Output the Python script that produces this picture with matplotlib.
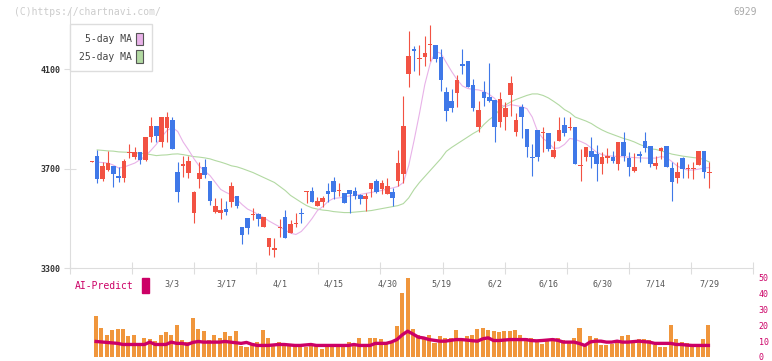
import numpy as np
import matplotlib
matplotlib.use("Agg")
import matplotlib.pyplot as plt
from matplotlib.patches import Patch, Rectangle

nan = np.nan

# daily candles (oldest first); labels every 10 trading days
opens = [3727, 3753, 3657, 3697, 3713, 3673, 3665, 3762, 3747, 3766,
         3737, 3827, 3874, 3807, 3863, 3898, 3689, 3710, 3685, 3522,
         3658, 3709, 3649, 3526, 3523, 3540, 3566, 3589, 3465, 3504,
         3516, 3520, 3465, 3385, 3373, 3461, 3508, 3441, 3477, 3524,
         3606, 3609, 3550, 3566, 3609, 3649, 3610, 3602, 3613, 3609,
         3593, 3578, 3618, 3652, 3620, 3598, 3605, 3650, 3680, 4080,
         4180, 4140, 4149, 4196, 4198, 4151, 4008, 3971, 4004, 4123,
         4135, 4035, 3870, 4007, 3987, 3975, 3887, 3907, 3995, 3847,
         3950, 3858, 3749, 3854, 3843, 3845, 3747, 3811, 3878, 3865,
         3870, 3710, 3747, 3770, 3760, 3718, 3743, 3749, 3718, 3806,
         3743, 3690, 3760, 3810, 3790, 3710, 3771, 3790, 3705, 3662,
         3743, 3700, 3698, 3717, 3770, 3684]
closes = [3730, 3657, 3710, 3725, 3678, 3665, 3733, 3765, 3766, 3737,
          3826, 3874, 3831, 3910, 3910, 3778, 3605, 3720, 3733, 3605,
          3685, 3677, 3570, 3552, 3536, 3526, 3629, 3550, 3432, 3461,
          3519, 3497, 3508, 3420, 3380, 3468, 3421, 3480, 3480, 3518,
          3609, 3566, 3569, 3581, 3597, 3606, 3614, 3562, 3600, 3590,
          3577, 3589, 3644, 3606, 3644, 3629, 3582, 3725, 3874, 4155,
          4172, 4144, 4165, 4199, 4142, 4055, 3932, 3946, 4055, 4112,
          4028, 3944, 3938, 3984, 3971, 3867, 3979, 3945, 4044, 3898,
          3907, 3787, 3744, 3747, 3846, 3780, 3774, 3854, 3843, 3868,
          3720, 3713, 3786, 3749, 3718, 3749, 3753, 3731, 3806, 3751,
          3706, 3708, 3751, 3783, 3718, 3724, 3783, 3709, 3646, 3689,
          3700, 3703, 3701, 3770, 3686, 3687]
highs = [3731, 3776, 3727, 3771, 3713, 3706, 3740, 3798, 3787, 3767,
         3826, 3907, 3874, 3910, 3928, 3907, 3727, 3753, 3753, 3610,
         3727, 3740, 3649, 3582, 3582, 3570, 3646, 3589, 3468, 3504,
         3544, 3524, 3508, 3420, 3420, 3499, 3536, 3496, 3522, 3544,
         3609, 3625, 3586, 3589, 3642, 3666, 3644, 3602, 3613, 3626,
         3600, 3602, 3644, 3660, 3656, 3665, 3622, 3774, 3991, 4252,
         4192, 4196, 4232, 4280, 4198, 4182, 4028, 4019, 4078, 4180,
         4135, 4062, 3971, 4051, 4125, 3975, 4008, 3968, 4075, 3925,
         3961, 3858, 3798, 3854, 3870, 3845, 3810, 3910, 3910, 3910,
         3870, 3780, 3786, 3826, 3794, 3767, 3783, 3770, 3806, 3846,
         3767, 3764, 3770, 3847, 3790, 3753, 3787, 3790, 3727, 3727,
         3747, 3720, 3727, 3770, 3770, 3727]
lows = [3727, 3642, 3650, 3690, 3626, 3646, 3646, 3744, 3740, 3720,
        3733, 3807, 3807, 3787, 3807, 3778, 3566, 3666, 3662, 3481,
        3622, 3662, 3556, 3523, 3499, 3513, 3548, 3542, 3396, 3437,
        3495, 3471, 3465, 3353, 3345, 3425, 3421, 3441, 3465, 3481,
        3562, 3566, 3550, 3546, 3566, 3579, 3589, 3562, 3523, 3579,
        3559, 3532, 3586, 3602, 3600, 3598, 3551, 3629, 3642, 4028,
        4095, 4078, 4115, 4135, 4131, 4012, 3891, 3928, 3948, 4082,
        4028, 3934, 3847, 3954, 3968, 3807, 3870, 3854, 3914, 3830,
        3823, 3747, 3670, 3731, 3767, 3770, 3743, 3811, 3830, 3854,
        3720, 3650, 3731, 3702, 3650, 3678, 3724, 3724, 3697, 3731,
        3670, 3686, 3727, 3767, 3706, 3700, 3740, 3706, 3570, 3642,
        3664, 3662, 3657, 3717, 3664, 3622]

ma5 = [nan, 3727, 3725, 3723, 3715, 3703, 3707, 3715, 3723, 3737,
       3751, 3774, 3798, 3828, 3854, 3866, 3850, 3808, 3776, 3741,
       3711, 3691, 3673, 3645, 3617, 3605, 3595, 3577, 3556, 3538,
       3528, 3516, 3504, 3490, 3478, 3466, 3454, 3441, 3436, 3448,
       3472, 3500, 3532, 3548, 3569, 3581, 3583, 3587, 3591, 3593,
       3597, 3601, 3605, 3609, 3613, 3619, 3623, 3629, 3645, 3713,
       3814, 3922, 4039, 4123, 4172, 4164, 4127, 4091, 4059, 4033,
       4023, 4019, 4017, 4011, 3999, 3983, 3958, 3950, 3958, 3954,
       3950, 3942, 3908, 3850, 3822, 3806, 3782, 3784, 3798, 3822,
       3818, 3810, 3800, 3784, 3766, 3757, 3752, 3751, 3749, 3748,
       3747, 3745, 3744, 3743, 3743, 3743, 3749, 3745, 3729, 3711,
       3701, 3695, 3695, 3699, 3703, 3705]
ma25 = [nan, 3776, 3774, 3772, 3771, 3768, 3767, 3766, 3764, 3763,
        3760, 3757, 3753, 3755, 3756, 3759, 3760, 3757, 3753, 3749,
        3747, 3744, 3740, 3733, 3727, 3720, 3712, 3708, 3701, 3693,
        3685, 3675, 3665, 3655, 3645, 3629, 3613, 3593, 3579, 3565,
        3552, 3543, 3538, 3534, 3532, 3528, 3526, 3524, 3524, 3526,
        3528, 3530, 3532, 3536, 3540, 3544, 3548, 3552, 3560, 3583,
        3617, 3645, 3669, 3693, 3717, 3741, 3770, 3786, 3800, 3814,
        3828, 3842, 3854, 3878, 3898, 3914, 3940, 3956, 3969, 3979,
        3987, 3995, 4001, 4001, 3995, 3985, 3971, 3956, 3938, 3926,
        3908, 3900, 3892, 3882, 3868, 3856, 3846, 3838, 3830, 3822,
        3816, 3808, 3798, 3790, 3780, 3778, 3772, 3766, 3759, 3755,
        3751, 3748, 3745, 3743, 3737, 3727]

volume = [nan, 25.6, 18, 14.2, 16.8, 17.4, 17.4, 13, 14.2, 7.3,
          11.7, 11.1, 9.8, 13.6, 15.5, 13.6, 19.9, 10.5, 9.2, 24.4,
          17.4, 16.1, 10.5, 13.6, 12.3, 15.5, 13, 16.1, 6.7, 6.1,
          7.3, 9.2, 16.8, 11.7, 7.3, 9.2, 7.3, 7.3, 7.3, 7.3,
          6.1, 7.3, 7.3, 4.8, 7.3, 7.3, 7.3, 7.3, 9.2, 8,
          11.7, 7.3, 11.7, 11.7, 11.1, 8.6, 8.6, 19.5, 40.3, 49.7,
          17.4, 13.6, 11.1, 14.2, 8.6, 13, 11.7, 11.7, 16.8, 11.1,
          13, 13.6, 17.4, 18.6, 16.8, 16.1, 15.5, 16.1, 16.1, 16.8,
          13.6, 11.7, 12.3, 10.5, 8, 10.5, 11.1, 12.3, 10.5, 8.6,
          11.7, 18.6, 7.3, 13, 12.3, 7.3, 7.3, 8, 10.5, 13,
          14.2, 8.6, 11.1, 11.1, 10.5, 7.3, 6.1, 6.1, 19.9, 11.1,
          9.2, 8.6, 7.3, 7.3, 11.1, 19.9]
ai_predict = [nan, 9.8, 9.5, 9.2, 8.9, 8.6, 7.9, 7.9, 7.9, 7.9,
              7.9, 9.4, 7.9, 7.9, 7.9, 9.4, 8.6, 8.6, 7.9, 9.2,
              9.8, 9.4, 9.4, 9.4, 9.4, 9.8, 9.4, 9.0, 8.6, 9.2,
              8.0, 7.3, 7.3, 7.3, 7.6, 7.9, 7.9, 7.6, 7.3, 7.3,
              7.6, 7.9, 7.3, 7.3, 7.3, 7.3, 7.3, 7.3, 7.3, 7.9,
              7.3, 7.3, 7.3, 8.6, 8.6, 8.6, 9.5, 11, 14, 16.3,
              14.5, 12.5, 12, 11, 10.5, 10, 10, 10.5, 11, 11,
              10.7, 10.3, 10, 11.5, 12.1, 10.4, 10.4, 10.7, 11, 11,
              11, 11, 10.4, 10.2, 10.4, 10.7, 11, 10.5, 9.4, 9.4,
              9.4, 8.5, 7.3, 9.5, 10, 10, 9.4, 9.4, 10, 9.4,
              9.4, 9.7, 10, 9.7, 9.4, 8.6, 8.6, 8.6, 8.6, 7.9,
              7.9, 7.5, 7.3, 7.3, 7.3, 7.3]

date_labels = ["3/3", "3/17", "4/1", "4/15", "4/30", "5/19",
               "6/2", "6/16", "6/30", "7/14", "7/29"]
date_pos = [15, 25, 35, 45, 55, 65, 75, 85, 95, 105, 115]

RED = "#f25243"
BLUE = "#3f78e8"
PINK = "#e8b2e8"
GREEN = "#b2d9a2"
CRIMSON = "#cc0066"
MONO = "DejaVu Sans Mono"

x = np.arange(len(opens))
o = np.array(opens, float)
c = np.array(closes, float)
h = np.array(highs, float)
l = np.array(lows, float)
colors = np.where(c >= o, RED, BLUE)

W, H = 772, 361
fig = plt.figure(figsize=(W / 100, H / 100), dpi=100)

xmin, xmax = -4.06, 123.1
top_px, bot_px = 10, 268.3

# volume / AI-Predict panel (drawn first, transparent, so the date labels stay visible)
ax2 = fig.add_axes([70 / W, 1 - 357 / H, 683 / W, 79.2 / H])
ax2.patch.set_visible(False)
ax2.set_xlim(xmin, xmax)
ax2.set_ylim(0, 50)
ax2.bar(x - 0.2, volume, width=0.75, color="#f0963c", zorder=2)
ax2.plot(x - 0.2, ai_predict, color=CRIMSON, lw=2.4, zorder=3)
for s in ax2.spines.values():
    s.set_visible(False)
ax2.set_xticks([])
ax2.yaxis.tick_right()
ax2.set_yticks([0, 10, 20, 30, 40, 50])
ax2.set_yticklabels(["0", "10", "20", "30", "40", "50"], fontsize=6,
                    color=CRIMSON, family=MONO, va="center_baseline")
ax2.tick_params(axis="y", length=0, pad=4)

ax = fig.add_axes([70 / W, 1 - bot_px / H, 683 / W, (bot_px - top_px) / H])
ax.patch.set_visible(False)
ax.set_xlim(xmin, xmax)
ax.set_ylim(3300, 3300 + (bot_px - top_px) * 4.02)

ax.plot(x, ma25, color=GREEN, lw=0.8, zorder=2)
ax.plot(x, ma5, color=PINK, lw=0.8, zorder=2)
ax.vlines(x, l, h, colors=colors, lw=0.8, zorder=3)
body_h = np.maximum(np.abs(c - o), 4)
ax.bar(x, body_h, bottom=np.minimum(o, c), width=0.85, color=colors, zorder=4)

for s in ["top", "right"]:
    ax.spines[s].set_visible(False)
for s in ["left", "bottom"]:
    ax.spines[s].set_color("#dddddd")
ax.set_yticks([3300, 3700, 4100])
ax.set_yticklabels(["3300", "3700", "4100"], fontsize=6, fontweight="bold",
                   color="#333333", family=MONO)
ax.tick_params(axis="y", direction="inout", length=8, color="#dddddd", pad=3)
ax.set_xticks(np.linspace(xmin, xmax, 12))
ax.set_xticklabels([])
ax.set_xticks(date_pos, minor=True)
ax.set_xticklabels(date_labels, minor=True, fontsize=6, color="#555555", family=MONO)
ax.tick_params(axis="x", which="major", direction="inout", length=8, color="#dddddd")
ax.tick_params(axis="x", which="minor", length=0, pad=8)

handles = [Patch(facecolor=PINK, edgecolor="#555555", lw=0.8),
           Patch(facecolor=GREEN, edgecolor="#555555", lw=0.8)]
leg = fig.legend(handles, ["5-day MA", "25-day MA"], loc="upper left",
                 bbox_to_anchor=(70 / W, 1 - 24 / H), markerfirst=False,
                 prop={"family": MONO, "size": 7}, handlelength=0.7, handleheight=1.6,
                 handletextpad=0.5, labelspacing=0.5, borderpad=0.9, borderaxespad=0,
                 fancybox=False, framealpha=1, edgecolor="#dddddd")
for t in leg.get_texts():
    t.set_color("#444444")

fig.text(14 / W, 1 - 12 / H, "(C)https://chartnavi.com/", color="#cccccc",
         fontsize=7, family=MONO, va="center")
fig.text(757 / W, 1 - 12 / H, "6929", color="#aaaaaa", fontsize=7, family=MONO,
         va="center", ha="right")

fig.text(75 / W, 1 - 286 / H, "AI-Predict", color=CRIMSON, fontsize=7,
         family=MONO, va="center")
fig.patches.append(Rectangle((142 / W, 1 - 293 / H), 7 / W, 15 / H,
                             transform=fig.transFigure, color=CRIMSON))

fig.savefig("out.png", dpi=100)
